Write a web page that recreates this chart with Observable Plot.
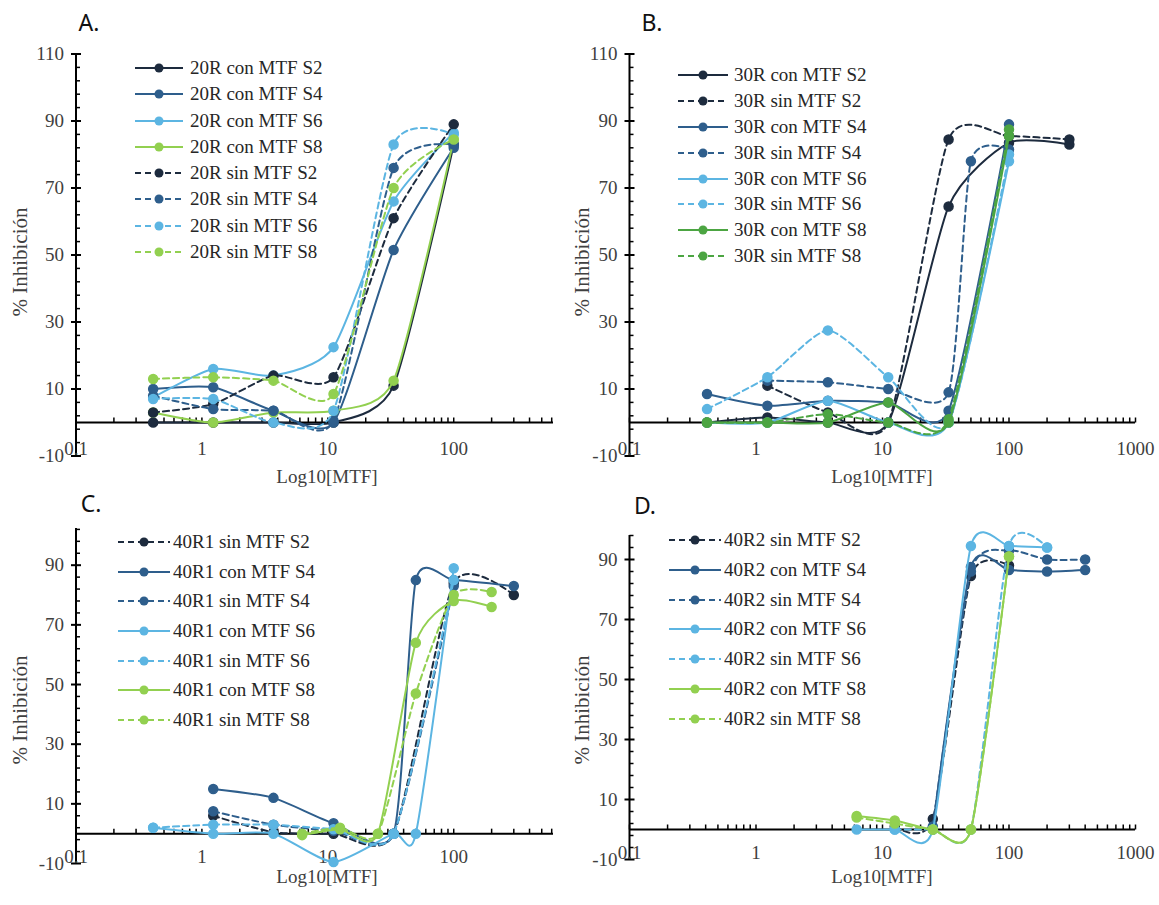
<!DOCTYPE html>
<html><head><meta charset="utf-8">
<script src="https://cdn.jsdelivr.net/npm/d3@7"></script>
<script src="https://cdn.jsdelivr.net/npm/@observablehq/plot@0.6"></script>
<style>
body{margin:0;background:#fff;}
#root{position:relative;width:1159px;height:905px;overflow:hidden;font-family:"Liberation Serif",serif;}
#root svg text{font-family:"Liberation Serif",serif !important;}
.panel{position:absolute;}
.plab{position:absolute;font-family:"Noto Sans",sans-serif;font-size:23px;color:#111;transform:translate(-50%,-50%);line-height:1;}
.ytitle{position:absolute;font-size:21px;color:#404040;transform:translate(-50%,-50%) rotate(-90deg);white-space:nowrap;line-height:1;}
.xtitle{position:absolute;font-size:19px;color:#404040;transform:translate(-50%,-50%);white-space:nowrap;line-height:1;}
.legend{position:absolute;font-size:19px;color:#262626;}
.legend .row{display:flex;align-items:center;white-space:nowrap;}
.legend svg{display:block;}
</style>
</head><body><div id="root"></div>
<script>
// ---------------- DATA ----------------
// Panel A
const A_conc = [0.41, 1.23, 3.7, 11.1, 33.3, 100];
const A_names = ["20R con MTF S2","20R con MTF S4","20R con MTF S6","20R con MTF S8","20R sin MTF S2","20R sin MTF S4","20R sin MTF S6","20R sin MTF S8"];
const A_conS2 = [0, 0, 0, 0, 11, 83];
const A_conS4 = [10, 10.5, 3.5, 0, 51.5, 82];
const A_conS6 = [7.5, 16, 14, 22.5, 66, 86.5];
const A_conS8 = [3, 0, 3, 3.5, 12.5, 84.5];
const A_sinS2 = [3, 5.5, 14, 13.5, 61, 89];
const A_sinS4 = [8, 4, 3.5, 0.5, 76, 83];
const A_sinS6 = [7, 7, 0, 3.5, 83, 86];
const A_sinS8 = [13, 13.5, 12.5, 8.5, 70, 84.5];

// Panel B
const B_conc7 = [0.41, 1.23, 3.7, 11.1, 33.3, 100, 300];
const B_conc6 = [0.41, 1.23, 3.7, 11.1, 33.3, 100];
const B_concS2sin = [1.23, 3.7, 11.1, 33.3, 100, 300];
const B_concS4sin = [1.23, 3.7, 11.1, 33.3, 50, 100];
const B_names = ["30R con MTF S2","30R sin MTF S2","30R con MTF S4","30R sin MTF S4","30R con MTF S6","30R sin MTF S6","30R con MTF S8","30R sin MTF S8"];
const B_conS2 = [0, 1.5, 0, 0, 64.5, 83.5, 83];
const B_sinS2 = [11, 3, 0, 84.5, 85.5, 84.5];
const B_conS4 = [8.5, 5, 6.5, 6, 3.5, 89];
const B_sinS4 = [12.5, 12, 10, 9, 78, 81.5];
const B_conS6 = [0, 0, 6.5, 0, 0, 78];
const B_sinS6 = [4, 13.5, 27.5, 13.5, 0, 80];
const B_conS8 = [0, 0, 0, 6, 0, 85.5];
const B_sinS8 = [0, 0, 2.5, 0, 1, 87.5];

// Panel C
const C_concS2 = [1.23, 3.7, 11.1, 33.3, 100, 300];
const C_concS4con = [1.23, 3.7, 11.1, 33.3, 50, 100, 300];
const C_concS4sin = [1.23, 3.7, 11.1, 33.3, 100];
const C_concS6con = [0.41, 1.23, 3.7, 11.1, 33.3, 50, 100];
const C_concS6sin = [0.41, 1.23, 3.7, 11.1, 33.3, 100];
const C_concS8 = [6.25, 12.5, 25, 50, 100, 200];
const C_names = ["40R1 sin MTF S2","40R1 con MTF S4","40R1 sin MTF S4","40R1 con MTF S6","40R1 sin MTF S6","40R1 con MTF S8","40R1 sin MTF S8"];
const C_sinS2 = [6, 0.5, 0, 0, 84, 80];
const C_conS4 = [15, 12, 3.5, 0, 85, 85, 83];
const C_sinS4 = [7.5, 3, 1, 0, 83];
const C_conS6 = [2, 0, 0, -9.5, 0, 0, 89];
const C_sinS6 = [2, 3, 3, 1.5, 0, 85];
const C_conS8 = [-0.5, 1.5, 0, 64, 78, 76];
const C_sinS8 = [0, 2, 0, 47, 80, 81];

// Panel D
const D_concS2 = [12.5, 25, 50, 100];
const D_concS4 = [25, 50, 100, 200, 400];
const D_concS6con = [6.25, 12.5, 25, 50, 100, 200];
const D_concS6sin = [12.5, 25, 50, 100, 200];
const D_concS8 = [6.25, 12.5, 25, 50, 100];
const D_names = ["40R2 sin MTF S2","40R2 con MTF S4","40R2 sin MTF S4","40R2 con MTF S6","40R2 sin MTF S6","40R2 con MTF S8","40R2 sin MTF S8"];
const D_sinS2 = [1, 3.5, 84.5, 88];
const D_conS4 = [0.5, 87.5, 86.5, 86, 86.5];
const D_sinS4 = [1, 86, 93, 90, 90];
const D_conS6 = [0, 0, 0, 94.5, 94.5, 94];
const D_sinS6 = [0, 0, 0, 94.5, 94];
const D_conS8 = [4.5, 3, 0, 0, 91];
const D_sinS8 = [4, 2, 0, 0, 91];

// axis tick labels
const yTickLabels = [-10, 10, 30, 50, 70, 90, 110];
const xTickLabels = [0.1, 1, 10, 100, 1000];

// ---------------- STYLE ----------------
const COL = {S2: "#1d2b3e", S4: "#2e5e8c", S6: "#5cb5e2", S8: "#92d050", S8b: "#4ca542"};
const SERIF = "Liberation Serif, serif";

// tick-mark symbols (drawn at data positions through the scales)
const tickUp = {draw(ctx) { ctx.moveTo(0, 0); ctx.lineTo(0, -5); }};
const tickRight = {draw(ctx) { ctx.moveTo(0, 0); ctx.lineTo(4, 0); }};
const tickCross = {draw(ctx) { ctx.moveTo(-5, 0); ctx.lineTo(5, 0); }};

const panels = [
  {key: "A", left: 0, top: 0, width: 580, height: 480, mL: 75.5, mR: 27, mT: 53.5, mB: 24.5, xMax: 620, yMax: 110,
   series: [
     [A_names[0], A_conc, A_conS2, "S2", false], [A_names[1], A_conc, A_conS4, "S4", false],
     [A_names[2], A_conc, A_conS6, "S6", false], [A_names[3], A_conc, A_conS8, "S8", false],
     [A_names[4], A_conc, A_sinS2, "S2", true], [A_names[5], A_conc, A_sinS4, "S4", true],
     [A_names[6], A_conc, A_sinS6, "S6", true], [A_names[7], A_conc, A_sinS8, "S8", true]],
   letter: [89, 22], ytitle: [20, 262], xtitle: [327, 476], legend: {x: 135, y: 68, step: 26.3, line: 48, gap: 7}},
  {key: "B", left: 580, top: 0, width: 579, height: 480, mL: 49, mR: 24, mT: 53.5, mB: 24.5, xMax: 1000, yMax: 110,
   series: [
     [B_names[0], B_conc7, B_conS2, "S2", false], [B_names[1], B_concS2sin, B_sinS2, "S2", true],
     [B_names[2], B_conc6, B_conS4, "S4", false], [B_names[3], B_concS4sin, B_sinS4, "S4", true],
     [B_names[4], B_conc6, B_conS6, "S6", false], [B_names[5], B_conc6, B_sinS6, "S6", true],
     [B_names[6], B_conc6, B_conS8, "S8b", false], [B_names[7], B_conc6, B_sinS8, "S8b", true]],
   letter: [652, 22], ytitle: [582, 262], xtitle: [882, 476], legend: {x: 678, y: 75, step: 25.9, line: 50, gap: 6}},
  {key: "C", left: 0, top: 460, width: 580, height: 445, mL: 75.5, mR: 27, mT: 68, mB: 42, xMax: 620, yMax: 102.3,
   series: [
     [C_names[0], C_concS2, C_sinS2, "S2", true], [C_names[1], C_concS4con, C_conS4, "S4", false],
     [C_names[2], C_concS4sin, C_sinS4, "S4", true], [C_names[3], C_concS6con, C_conS6, "S6", false],
     [C_names[4], C_concS6sin, C_sinS6, "S6", true], [C_names[5], C_concS8, C_conS8, "S8", false],
     [C_names[6], C_concS8, C_sinS8, "S8", true]],
   letter: [91, 503], ytitle: [20, 710], xtitle: [327, 876], legend: {x: 118, y: 542, step: 29.7, line: 52, gap: 3}},
  {key: "D", left: 580, top: 460, width: 579, height: 445, mL: 49, mR: 24, mT: 75, mB: 46, xMax: 1000, yMax: 98,
   series: [
     [D_names[0], D_concS2, D_sinS2, "S2", true], [D_names[1], D_concS4, D_conS4, "S4", false],
     [D_names[2], D_concS4, D_sinS4, "S4", true], [D_names[3], D_concS6con, D_conS6, "S6", false],
     [D_names[4], D_concS6sin, D_sinS6, "S6", true], [D_names[5], D_concS8, D_conS8, "S8", false],
     [D_names[6], D_concS8, D_sinS8, "S8", true]],
   letter: [645, 505], ytitle: [582, 710], xtitle: [882, 876], legend: {x: 669, y: 540, step: 29.8, line: 52, gap: 3}}
];

const root = document.getElementById("root");
const DASH = "6,4";

for (const p of panels) {
  const yMin = -10;
  const minorY = d3.range(-10, p.yMax + 0.01, 4).filter(v => !yTickLabels.includes(v));
  const majorY = yTickLabels.filter(v => v <= p.yMax);
  const xTicks = d3.scaleLog().domain([0.1, p.xMax]).ticks();
  const xLabs = xTickLabels.filter(v => v <= p.xMax);

  const marks = [
    Plot.ruleX([0.1], {stroke: "#000", strokeWidth: 2}),
    Plot.ruleY([0], {stroke: "#000", strokeWidth: 2}),
    Plot.dot(minorY, {x: 0.1, y: d => d, symbol: tickRight, fill: "none", stroke: "#000", strokeWidth: 1.5}),
    Plot.dot(majorY, {x: 0.1, y: d => d, symbol: tickCross, fill: "none", stroke: "#000", strokeWidth: 2}),
    Plot.dot(xTicks, {x: d => d, y: 0, symbol: tickUp, fill: "none", stroke: "#000", strokeWidth: 1.5}),
    Plot.text(majorY, {x: 0.1, y: d => d, text: d => String(d), textAnchor: "end", dx: -12, fill: "#404040", fontFamily: SERIF}),
    Plot.text(xLabs, {x: d => d, y: yMin, text: d => String(d), dy: -7, fill: "#404040", fontFamily: SERIF})
  ];
  for (const [name, xs, ys, c, dashed] of p.series) {
    const rows = xs.map((x, j) => ({series: name, x, y: ys[j]}));
    marks.push(Plot.line(rows, {x: "x", y: "y", stroke: COL[c], strokeWidth: 2, strokeDasharray: dashed ? DASH : null, curve: "cardinal", tension: 0.35}));
    marks.push(Plot.dot(rows, {x: "x", y: "y", r: 4.5, fill: COL[c], stroke: COL[c]}));
  }

  const chart = Plot.plot({
    width: p.width, height: p.height,
    marginLeft: p.mL, marginRight: p.mR, marginTop: p.mT, marginBottom: p.mB,
    x: {type: "log", domain: [0.1, p.xMax], axis: null},
    y: {domain: [yMin, p.yMax], axis: null},
    style: {fontFamily: SERIF, fontSize: "19px", color: "#404040", background: "transparent", overflow: "visible"},
    marks
  });
  chart.setAttribute("font-family", SERIF);
  const wrap = document.createElement("div");
  wrap.className = "panel";
  wrap.style.left = p.left + "px"; wrap.style.top = p.top + "px";
  wrap.appendChild(chart);
  root.appendChild(wrap);

  const L = document.createElement("div"); L.className = "plab"; L.textContent = p.key + ".";
  L.style.left = p.letter[0] + "px"; L.style.top = p.letter[1] + "px"; root.appendChild(L);
  const Y = document.createElement("div"); Y.className = "ytitle"; Y.textContent = "% Inhibición";
  Y.style.left = p.ytitle[0] + "px"; Y.style.top = p.ytitle[1] + "px"; root.appendChild(Y);
  const X = document.createElement("div"); X.className = "xtitle"; X.textContent = "Log10[MTF]";
  X.style.left = p.xtitle[0] + "px"; X.style.top = p.xtitle[1] + "px"; root.appendChild(X);

  const lg = p.legend;
  const leg = document.createElement("div"); leg.className = "legend";
  leg.style.left = lg.x + "px"; leg.style.top = (lg.y - lg.step / 2) + "px";
  for (const [name, , , c, dashed] of p.series) {
    const row = document.createElement("div"); row.className = "row"; row.style.height = lg.step + "px";
    const s = d3.create("svg").attr("width", lg.line).attr("height", 14);
    s.append("line").attr("x1", 0).attr("x2", lg.line).attr("y1", 7).attr("y2", 7)
      .attr("stroke", COL[c]).attr("stroke-width", 2).attr("stroke-dasharray", dashed ? DASH : null);
    s.append("circle").attr("cx", lg.line / 2).attr("cy", 7).attr("r", 4.5).attr("fill", COL[c]);
    row.appendChild(s.node());
    const t = document.createElement("span"); t.textContent = name; t.style.marginLeft = lg.gap + "px";
    row.appendChild(t);
    leg.appendChild(row);
  }
  root.appendChild(leg);
}
</script>
</body></html>
